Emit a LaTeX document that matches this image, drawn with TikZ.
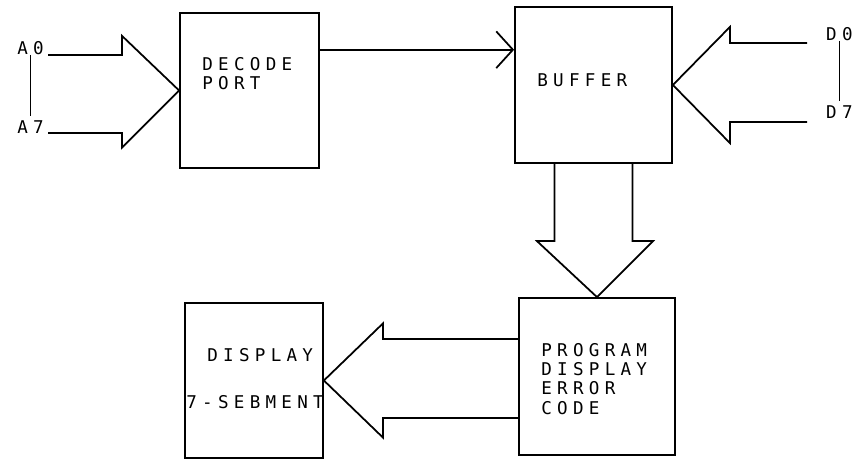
\documentclass[tikz,border=0pt]{standalone}
\usepackage{fontspec}
\usepackage{tikz}
\usetikzlibrary{arrows.meta, calc, positioning}
\newfontfamily\plotter[LetterSpace=30]{DejaVu Sans Mono}
\tikzstyle{block}=[draw,rectangle,line width=1.5pt,inner sep=0pt]
\tikzstyle{lbl}=[inner sep=0pt,align=left,font=\plotter\fontsize{15}{16.5}\selectfont]
\tikzstyle{bus}=[draw,line width=1.5pt,line join=miter]

\begin{document}
\begin{tikzpicture}[x=0.03cm,y=-0.03cm,>={Straight Barb[length=5mm,width=11mm]}]
    \useasboundingbox (0,0) rectangle (857,461);
    \node[block, minimum width=4.17cm, minimum height=4.65cm] (decode) at (249.5,90.5) {};
    \node[block, minimum width=4.71cm, minimum height=4.68cm] (buffer) at (593.5,85) {};
    \node[block, minimum width=4.68cm, minimum height=4.71cm] (program) at (597,376.5) {};
    \node[block, minimum width=4.14cm, minimum height=4.65cm] (display) at (254,380.5) {};
    \node[lbl, anchor=base west] (decodetxt) at ($(decode.north west)+(23,77.5)$) {DECODE\\PORT};
    \node[lbl, anchor=base west] (buffertxt) at ($(buffer.north west)+(23,80)$) {BUFFER};
    \node[lbl, anchor=base west] (programtxt) at ($(program.north west)+(23,117)$) {PROGRAM\\DISPLAY\\ERROR\\CODE};
    \node[lbl, anchor=base west] (displaytxt) at ($(display.north west)+(23,59)$) {DISPLAY};
    \node[lbl, anchor=base west] (segtxt) at ($(display.north west)+(2,106)$) {7-SEBMENT};
    \node[lbl, anchor=east] (a0) at (44,48) {A0};
    \node[lbl, anchor=east] (a7) at (44,127) {A7};
    \node[lbl, anchor=west] (d0) at (826,34) {D0};
    \node[lbl, anchor=west] (d7) at (826,112) {D7};
    \draw[line width=1.5pt] (a0.south) -- ++(0,4) -- ($(a7.north)+(0,-4)$);
    \draw[line width=1.5pt] (d0.south) -- ++(0,4) -- ($(d7.north)+(0,-4)$);
    \draw[bus] ($(a0.east)+(4,7)$) -| ($(decode.west)+(-57,-54.5)$) -- (decode.west) -- ($(decode.west)+(-57,57)$) |- ($(a7.east)+(4,6)$);
    \draw[bus] ($(d0.west)+(-19,9)$) -| ($(buffer.east)+(57,-58)$) -- (buffer.east) -- ($(buffer.east)+(57,58)$) |- ($(d7.west)+(-19,10)$);
    \draw[bus] ($(buffer.south)+(-39,0)$) |- ($(program.north)+(-60,-56)$) -- (program.north) -- ($(program.north)+(56,-56)$) -| ($(buffer.south)+(39,0)$);
    \draw[bus] ($(program.west)+(0,-37.5)$) -| ($(display.east)+(59,-57)$) -- (display.east) -- ($(display.east)+(59,57)$) |- ($(program.west)+(0,41.5)$);
    \coordinate (sel) at ($(decode.north east)!0.24!(decode.south east)$);
    \draw[->, line width=1.5pt] (sel) -- (sel -| buffer.west);
\end{tikzpicture}
\end{document}
